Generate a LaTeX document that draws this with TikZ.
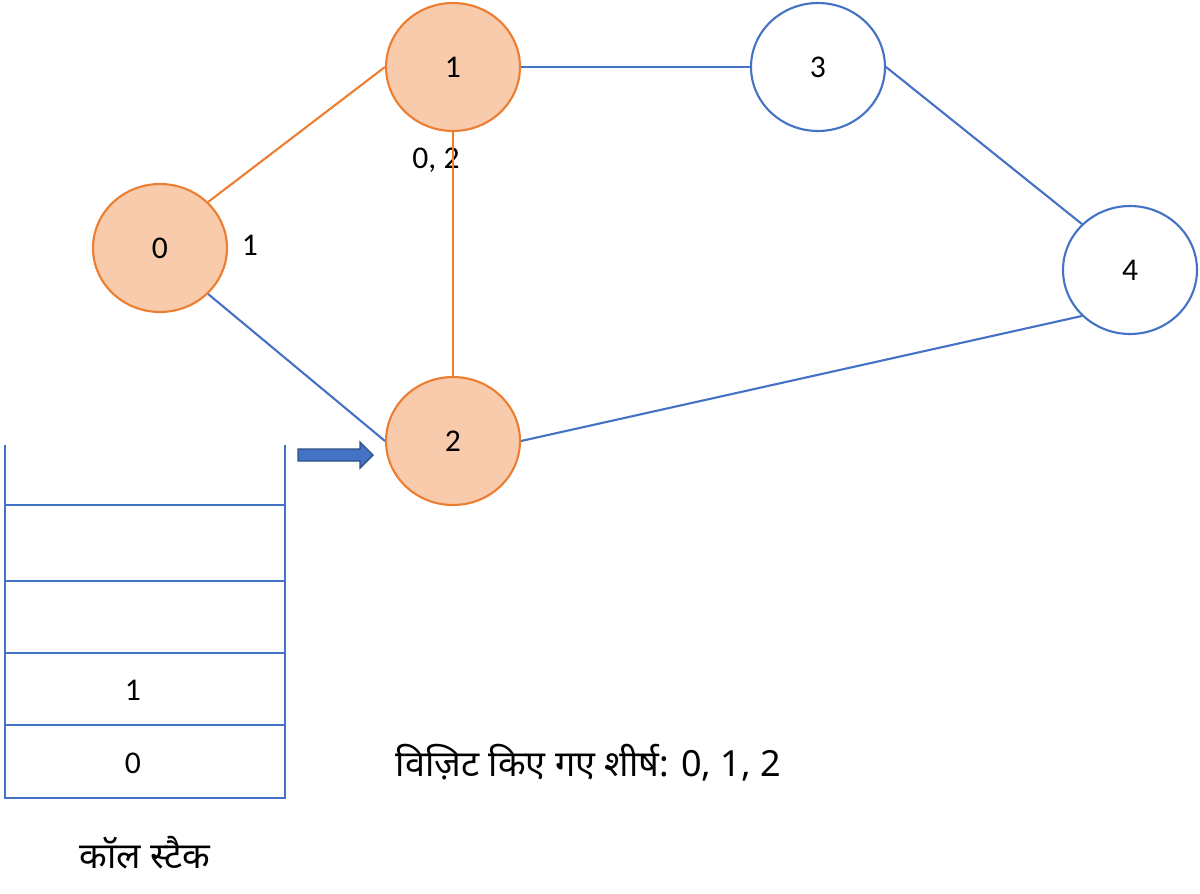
\documentclass[tikz,border=0pt]{standalone}
\usepackage{fontspec}
\setmainfont{Carlito}
\newfontfamily\hindi[Script=Devanagari]{Noto Sans}
\usetikzlibrary{shapes.geometric}
\definecolor{vorange}{HTML}{ED7D31}
\definecolor{vfill}{HTML}{F8CBAD}
\definecolor{eblue}{HTML}{4472C4}
\begin{document}
\begin{tikzpicture}[x=0.02cm,y=-0.02cm,line width=1.2pt]
\tikzset{ every node/.style={font=\fontsize{18}{21}\selectfont, inner sep=1pt}}
\tikzstyle{vertex}=[ellipse,draw=eblue,fill=white,minimum width=2.68cm,minimum height=2.56cm,inner sep=0pt]
\tikzstyle{visited}=[draw=vorange,fill=vfill]
\tikzstyle{tree}=[draw=vorange]
\tikzstyle{edge}=[draw=eblue]
\tikzstyle{hnote}=[font=\hindi\fontsize{20.5}{24}\selectfont]
\useasboundingbox (0,0) rectangle (1200,893);
% vertices
\node[vertex,visited] (v0) at (160,248) {0};
\node[vertex,visited] (v1) at (453,67) {1};
\node[vertex,visited] (v2) at (453,441) {2};
\node[vertex] (v3) at (818,67) {3};
\node[vertex] (v4) at (1130,270) {4};
% labels
\node (l0) at (250,245) {1};
\node (l1) at (436,160) {0, 2};
% edges
\draw[tree] (v0.north east) -- (v1.west);
\draw[tree] (v1.south) -- (v2.north);
\draw[edge] (v0.south east) -- (v2.west);
\draw[edge] (v1.east) -- (v3.west);
\draw[edge] (v3.east) -- (v4.north west);
\draw[edge] (v2.east) -- (v4.south west);
% call stack
\draw[eblue] (5,445) -- (5,798) -- (285,798) -- (285,445);
\foreach \y in {505,581,653,725}
  \draw[eblue] (5,\y) -- (285,\y);
\node (s1) at (133,690) {1};
\node (s0) at (133,763) {0};
\node[hnote] (stack) at (145,853) {कॉल स्टैक};
\node[hnote,anchor=west] (seen) at (393,763) {विज़िट किए गए शीर्ष: 0, 1, 2};
% pointer
\coordinate (p) at (298,455);
\draw[line width=0.8pt,draw=eblue!70!black,fill=eblue] (p) ++(0,-6) -- ++(62,0) -- ++(0,-7) -- ++(13,13) -- ++(-13,13) -- ++(0,-7) -- ++(-62,0) -- cycle;
\end{tikzpicture}
\end{document}
